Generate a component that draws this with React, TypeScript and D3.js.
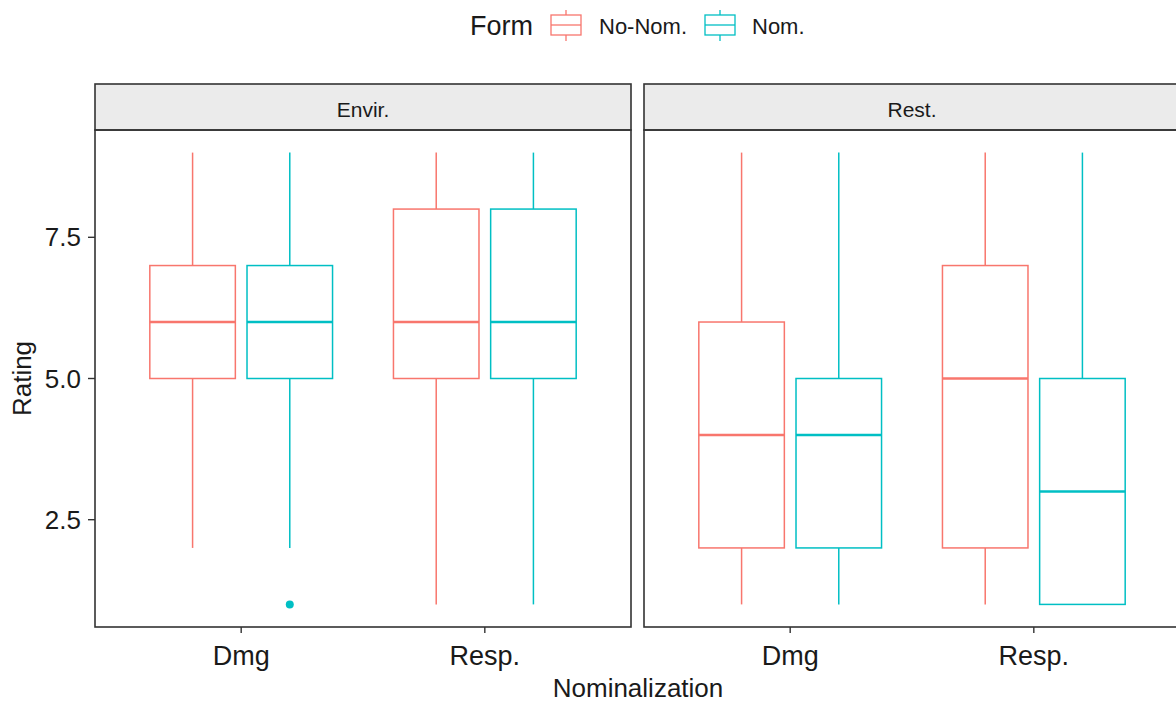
import * as d3 from 'd3';
import { useEffect, useRef } from 'react';

const width = 1176;
const height = 702;

const facets = ['Envir.', 'Rest.'];
const categories = ['Dmg', 'Resp.'];
const forms = ['No-Nom.', 'Nom.'];
const colors = ['#F8766D', '#00BFC4'];
const yTicks = [2.5, 5.0, 7.5];

// [facet, category, form, lowerWhisker, q1, median, q3, upperWhisker]
const boxes: [string, string, string, number, number, number, number, number][] = [
  ['Envir.', 'Dmg', 'No-Nom.', 2, 5, 6, 7, 9],
  ['Envir.', 'Dmg', 'Nom.', 2, 5, 6, 7, 9],
  ['Envir.', 'Resp.', 'No-Nom.', 1, 5, 6, 8, 9],
  ['Envir.', 'Resp.', 'Nom.', 1, 5, 6, 8, 9],
  ['Rest.', 'Dmg', 'No-Nom.', 1, 2, 4, 6, 9],
  ['Rest.', 'Dmg', 'Nom.', 1, 2, 4, 5, 9],
  ['Rest.', 'Resp.', 'No-Nom.', 1, 2, 5, 7, 9],
  ['Rest.', 'Resp.', 'Nom.', 1, 1, 3, 5, 9],
];

// [facet, category, form, value]
const outliers: [string, string, string, number][] = [['Envir.', 'Dmg', 'Nom.', 1]];

const panelTop = 130;
const panelBottom = 627;
const stripTop = 84;
const panelW = 536;
const panelLefts = [95, 644];
const ink = '#1a1a1a';

function App() {
  const wrapperRef = useRef<HTMLDivElement>(null);

  useEffect(() => {
    const wrapper = d3.select(wrapperRef.current);
    const svg = wrapper
      .append('svg')
      .attr('width', width)
      .attr('height', height)
      .style('position', 'absolute')
      .style('left', 0)
      .style('top', 0)
      .style('font-family', '"Liberation Sans", Arial, sans-serif');

    svg.append('rect').attr('width', width).attr('height', height).attr('fill', '#fff');

    const y = d3.scaleLinear().domain([0.6, 9.4]).range([panelBottom, panelTop]);
    const color = d3.scaleOrdinal<string, string>().domain(forms).range(colors);

    facets.forEach((facet, fi) => {
      const left = panelLefts[fi];
      const g = svg.append('g');

      // x: discrete with 0.6 expansion
      const xu = d3.scaleLinear().domain([0.4, 2.6]).range([left, left + panelW]);
      const unit = xu(1) - xu(0);
      const inner = d3
        .scaleBand()
        .domain(forms)
        .range([-0.375 * unit, 0.375 * unit])
        .paddingInner(0.12);
      const cx = (cat: string) => xu(categories.indexOf(cat) + 1);

      // strip
      g.append('rect')
        .attr('x', left)
        .attr('y', stripTop)
        .attr('width', panelW)
        .attr('height', panelTop - stripTop)
        .attr('fill', '#EBEBEB')
        .attr('stroke', '#333')
        .attr('stroke-width', 1.6);
      g.append('text')
        .attr('x', left + panelW / 2)
        .attr('y', 117)
        .attr('text-anchor', 'middle')
        .attr('font-size', 21)
        .attr('fill', ink)
        .text(facet);

      const data = boxes.filter((b) => b[0] === facet);
      data.forEach(([, cat, form, lo, q1, med, q3, hi]) => {
        const x0 = cx(cat) + (inner(form) || 0);
        const bw = inner.bandwidth();
        const mid = x0 + bw / 2;
        const c = color(form);
        if (hi > q3)
          g.append('line').attr('x1', mid).attr('x2', mid).attr('y1', y(hi)).attr('y2', y(q3)).attr('stroke', c).attr('stroke-width', 1.5);
        if (lo < q1)
          g.append('line').attr('x1', mid).attr('x2', mid).attr('y1', y(q1)).attr('y2', y(lo)).attr('stroke', c).attr('stroke-width', 1.5);
        g.append('rect')
          .attr('x', x0)
          .attr('y', y(q3))
          .attr('width', bw)
          .attr('height', y(q1) - y(q3))
          .attr('fill', 'white')
          .attr('stroke', c)
          .attr('stroke-width', 1.5);
        g.append('line')
          .attr('x1', x0)
          .attr('x2', x0 + bw)
          .attr('y1', y(med))
          .attr('y2', y(med))
          .attr('stroke', c)
          .attr('stroke-width', 2.6);
      });

      outliers
        .filter((o) => o[0] === facet)
        .forEach(([, cat, form, v]) => {
          g.append('circle')
            .attr('cx', cx(cat) + (inner(form) || 0) + inner.bandwidth() / 2)
            .attr('cy', y(v))
            .attr('r', 4)
            .attr('fill', color(form));
        });

      // panel border
      g.append('rect')
        .attr('x', left)
        .attr('y', panelTop)
        .attr('width', panelW)
        .attr('height', panelBottom - panelTop)
        .attr('fill', 'none')
        .attr('stroke', '#333')
        .attr('stroke-width', 1.6);

      // x axis
      categories.forEach((cat) => {
        g.append('line')
          .attr('x1', cx(cat))
          .attr('x2', cx(cat))
          .attr('y1', panelBottom)
          .attr('y2', panelBottom + 6)
          .attr('stroke', '#333')
          .attr('stroke-width', 1.4);
        g.append('text')
          .attr('x', cx(cat))
          .attr('y', panelBottom + 38)
          .attr('text-anchor', 'middle')
          .attr('font-size', 27)
          .attr('fill', ink)
          .text(cat);
      });

      // y axis only on first panel
      if (fi === 0) {
        yTicks.forEach((t) => {
          g.append('line')
            .attr('x1', left - 7)
            .attr('x2', left)
            .attr('y1', y(t))
            .attr('y2', y(t))
            .attr('stroke', '#333')
            .attr('stroke-width', 1.4);
          g.append('text')
            .attr('x', left - 14)
            .attr('y', y(t) + 9)
            .attr('text-anchor', 'end')
            .attr('font-size', 26)
            .attr('fill', ink)
            .text(d3.format('.1f')(t));
        });
      }
    });

    // axis titles
    svg
      .append('text')
      .attr('x', 638)
      .attr('y', 697)
      .attr('text-anchor', 'middle')
      .attr('font-size', 26)
      .attr('fill', ink)
      .text('Nominalization');
    svg
      .append('text')
      .attr('transform', `translate(31, ${(panelTop + panelBottom) / 2}) rotate(-90)`)
      .attr('text-anchor', 'middle')
      .attr('font-size', 26)
      .attr('fill', ink)
      .text('Rating');

    // legend
    const legend = svg.append('g');
    legend
      .append('text')
      .attr('x', 470)
      .attr('y', 35)
      .attr('font-size', 27)
      .attr('fill', ink)
      .text('Form');
    const keyX = [551, 705];
    const labelX = [599, 752];
    forms.forEach((f, i) => {
      const c = color(f);
      const k = legend.append('g');
      k.append('line').attr('x1', keyX[i] + 15).attr('x2', keyX[i] + 15).attr('y1', 10).attr('y2', 41).attr('stroke', c).attr('stroke-width', 1.3);
      k.append('rect')
        .attr('x', keyX[i])
        .attr('y', 15)
        .attr('width', 30)
        .attr('height', 20)
        .attr('fill', 'white')
        .attr('stroke', c)
        .attr('stroke-width', 1.3);
      k.append('line').attr('x1', keyX[i]).attr('x2', keyX[i] + 30).attr('y1', 25).attr('y2', 25).attr('stroke', c).attr('stroke-width', 1.3);
      legend
        .append('text')
        .attr('x', labelX[i])
        .attr('y', 34)
        .attr('font-size', 22)
        .attr('fill', ink)
        .text(f);
    });

    return () => {
      wrapper.select('svg').remove();
    };
  }, []);

  return <div ref={wrapperRef} style={{ width, height, overflow: 'hidden' }}></div>;
}

export default App;
